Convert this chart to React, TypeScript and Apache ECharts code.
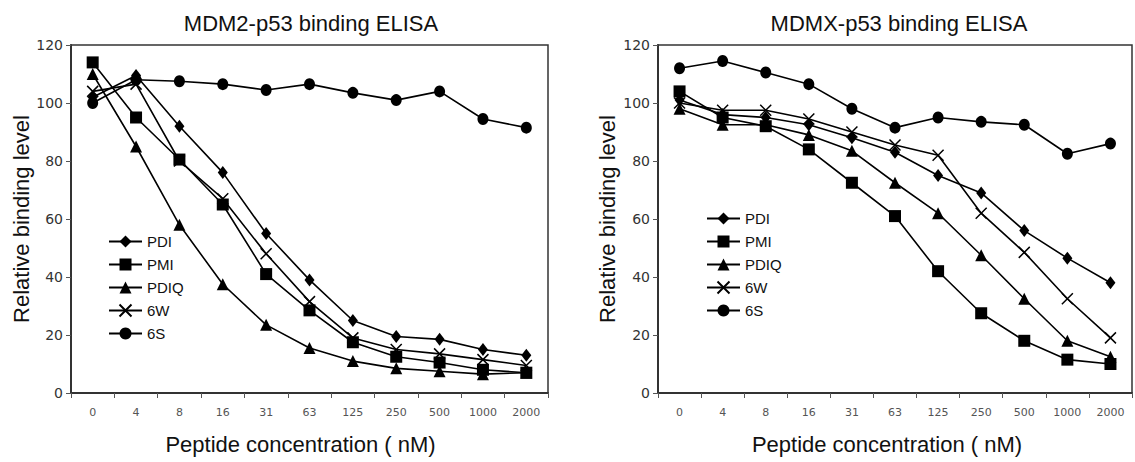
import React, { useEffect, useRef } from "react";
import * as echarts from "echarts";

const categories = ["0", "4", "8", "16", "31", "63", "125", "250", "500", "1000", "2000"];
const seriesNames = ["PDI", "PMI", "PDIQ", "6W", "6S"];

// MDM2-p53 binding ELISA
const mdm2PDI = [102, 109.5, 92, 76, 55, 39, 25, 19.5, 18.5, 15, 13];
const mdm2PMI = [114, 95, 80.5, 65, 41, 28.5, 17.5, 12.5, 10.5, 8, 7];
const mdm2PDIQ = [110, 85, 58, 37.5, 23.5, 15.5, 11, 8.5, 7.5, 6.5, 7];
const mdm26W = [104, 106.5, 80, 67, 48, 31.5, 19, 15, 13.5, 11.5, 9.5];
const mdm26S = [100, 108, 107.5, 106.5, 104.5, 106.5, 103.5, 101, 104, 94.5, 91.5];

// MDMX-p53 binding ELISA
const mdmxPDI = [101, 96, 95, 92.5, 88, 83, 75, 69, 56, 46.5, 38];
const mdmxPMI = [104, 95, 92, 84, 72.5, 61, 42, 27.5, 18, 11.5, 10];
const mdmxPDIQ = [98, 92.5, 92.5, 89, 83.5, 72.5, 62, 47.5, 32.5, 18, 12.5];
const mdmx6W = [100, 97.5, 97.5, 94.5, 90, 85.5, 82, 62, 48.5, 32.5, 19];
const mdmx6S = [112, 114.5, 110.5, 106.5, 98, 91.5, 95, 93.5, 92.5, 82.5, 86];

const titles = ["MDM2-p53 binding ELISA", "MDMX-p53 binding ELISA"];
const yTitle = "Relative binding level";
const xTitle = "Peptide concentration ( nM)";

const symbolStyles: Record<string, any> = {
  PDI: { symbol: "diamond", symbolSize: [10, 13], itemStyle: { color: "#000" } },
  PMI: { symbol: "rect", symbolSize: 12, itemStyle: { color: "#000" } },
  PDIQ: { symbol: "triangle", symbolSize: 12, itemStyle: { color: "#000" } },
  "6W": {
    symbol: "path://M0,0L10,10M10,0L0,10",
    symbolSize: 11,
    itemStyle: { color: "rgba(0,0,0,0)", borderColor: "#000", borderWidth: 1.5 },
  },
  "6S": { symbol: "circle", symbolSize: [11, 12], itemStyle: { color: "#000" } },
};

export default function App() {
  const ref = useRef<HTMLDivElement>(null);
  useEffect(() => {
    if (!ref.current) return;
    const chart = echarts.init(ref.current, undefined, { renderer: "svg" });
    const leftData = [mdm2PDI, mdm2PMI, mdm2PDIQ, mdm26W, mdm26S];
    const rightData = [mdmxPDI, mdmxPMI, mdmxPDIQ, mdmx6W, mdmx6S];
    const mkSeries = (data: number[][], idx: number) =>
      seriesNames.map((name, i) => ({
        type: "line",
        name,
        xAxisIndex: idx,
        yAxisIndex: idx,
        data: data[i],
        showSymbol: true,
        ...symbolStyles[name],
        lineStyle: { color: "#000", width: 1.6 },
        z: 10 - i,
      }));
    const mkX = (idx: number) => ({
      type: "category",
      gridIndex: idx,
      data: categories,
      boundaryGap: true,
      axisLine: { lineStyle: { color: "#333", width: 2 } },
      axisTick: { show: true, length: 5, lineStyle: { color: "#555" } },
      axisLabel: { fontFamily: "DejaVu Sans", fontSize: 11, color: "#555", margin: 14 },
      splitLine: { show: false },
      name: xTitle,
      nameLocation: "middle",
      nameGap: 40,
      nameTextStyle: {
        fontFamily: "Liberation Sans",
        fontSize: 22,
        color: "#111",
        padding: idx === 0 ? [0, 18, 0, 0] : [0, 16, 0, 0],
      },
    });
    const mkY = (idx: number) => ({
      type: "value",
      gridIndex: idx,
      min: 0,
      max: 120,
      interval: 20,
      axisLine: { show: true, lineStyle: { color: "#333", width: 2 } },
      axisTick: { show: true, length: 5, lineStyle: { color: "#555" } },
      axisLabel: { fontFamily: "DejaVu Sans", fontSize: 14, color: "#333", margin: 8 },
      splitLine: { show: false },
      name: yTitle,
      nameLocation: "middle",
      nameGap: idx === 0 ? 39 : 40,
      nameTextStyle: { fontFamily: "Liberation Sans", fontSize: 22, color: "#111" },
    });
    const legendCommon = {
      orient: "vertical",
      data: seriesNames,
      itemWidth: 33,
      itemHeight: 15,
      itemGap: 8,
      textStyle: { fontFamily: "Liberation Sans", fontSize: 15, color: "#111" },
      selectedMode: false,
    };
    chart.setOption({
      animation: false,
      backgroundColor: "#fff",
      grid: [
        { left: 71, top: 45, width: 477, height: 348, show: true, borderColor: "#333", borderWidth: 1.5 },
        { left: 658, top: 45, width: 474, height: 348, show: true, borderColor: "#333", borderWidth: 1.5 },
      ],
      xAxis: [mkX(0), mkX(1)],
      yAxis: [mkY(0), mkY(1)],
      legend: [
        { ...legendCommon, left: 103, top: 229 },
        { ...legendCommon, left: 701, top: 206 },
      ],
      graphic: [
        {
          type: "text",
          x: 311,
          y: 23,
          style: {
            text: titles[0],
            fontFamily: "Liberation Sans",
            fontSize: 22,
            fill: "#111",
            textAlign: "center",
            textVerticalAlign: "middle",
          },
        },
        {
          type: "text",
          x: 899,
          y: 23,
          style: {
            text: titles[1],
            fontFamily: "Liberation Sans",
            fontSize: 22,
            fill: "#111",
            textAlign: "center",
            textVerticalAlign: "middle",
          },
        },
      ],
      series: [...mkSeries(leftData, 0), ...mkSeries(rightData, 1)],
    });
    return () => chart.dispose();
  }, []);
  return (
    <div
      ref={ref}
      style={{ position: "fixed", left: 0, top: 0, width: 1135, height: 462, background: "#fff" }}
    />
  );
}
